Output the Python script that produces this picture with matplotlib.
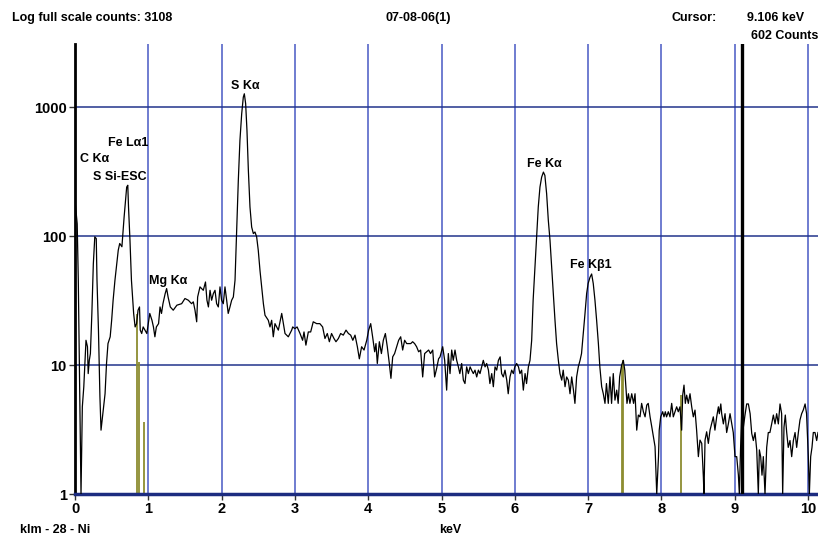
import matplotlib; matplotlib.use('Agg')

import matplotlib.pyplot as plt
import numpy as np

# spectrum (keV, counts)
energy = [0.00, 0.03, 0.045, 0.068, 0.082, 0.10, 0.12, 0.15, 0.17, 0.18, 0.195, 0.21, 0.23, 0.25, 0.27, 0.29, 0.30, 0.32, 0.34, 0.355,
          0.37, 0.39, 0.41, 0.43, 0.45, 0.48, 0.50, 0.52, 0.545, 0.57, 0.59, 0.61, 0.64, 0.65, 0.67, 0.69, 0.705, 0.72, 0.73, 0.75,
          0.77, 0.80, 0.82, 0.84, 0.86, 0.88, 0.89, 0.91, 0.93, 0.955, 0.98, 1.00, 1.02, 1.05, 1.07, 1.09, 1.11, 1.14, 1.16, 1.18,
          1.20, 1.23, 1.25, 1.27, 1.30, 1.32, 1.34, 1.39, 1.455, 1.50, 1.546, 1.59, 1.614, 1.637, 1.66, 1.673, 1.705, 1.75, 1.78, 1.80,
          1.82, 1.842, 1.864, 1.887, 1.91, 1.932, 1.955, 1.978, 2.00, 2.023, 2.046, 2.069, 2.09, 2.114, 2.137, 2.16, 2.183, 2.205, 2.228, 2.25,
          2.274, 2.296, 2.31, 2.328, 2.346, 2.365, 2.387, 2.41, 2.433, 2.455, 2.478, 2.50, 2.524, 2.546, 2.57, 2.592, 2.637, 2.66, 2.683, 2.705,
          2.728, 2.774, 2.82, 2.865, 2.91, 2.956, 2.97, 3.0, 3.03, 3.07, 3.105, 3.124, 3.15, 3.183, 3.215, 3.25, 3.297, 3.34, 3.378, 3.41,
          3.442, 3.47, 3.50, 3.533, 3.56, 3.593, 3.624, 3.66, 3.697, 3.73, 3.761, 3.79, 3.82, 3.852, 3.879, 3.91, 3.943, 3.98, 4.006, 4.034,
          4.06, 4.088, 4.106, 4.124, 4.152, 4.18, 4.206, 4.234, 4.26, 4.288, 4.31, 4.334, 4.36, 4.388, 4.415, 4.443, 4.47, 4.497, 4.525, 4.552,
          4.58, 4.606, 4.633, 4.66, 4.688, 4.715, 4.743, 4.77, 4.797, 4.824, 4.85, 4.88, 4.906, 4.933, 4.96, 4.98, 5.016, 5.043, 5.07, 5.093,
          5.116, 5.139, 5.16, 5.184, 5.207, 5.23, 5.25, 5.275, 5.298, 5.32, 5.343, 5.366, 5.39, 5.41, 5.434, 5.457, 5.48, 5.503, 5.525, 5.548,
          5.57, 5.594, 5.616, 5.64, 5.66, 5.685, 5.707, 5.73, 5.753, 5.776, 5.80, 5.82, 5.843, 5.866, 5.89, 5.91, 5.934, 5.957, 5.98, 6.0,
          6.025, 6.05, 6.07, 6.093, 6.116, 6.14, 6.16, 6.185, 6.207, 6.23, 6.25, 6.275, 6.3, 6.32, 6.343, 6.366, 6.39, 6.41, 6.434, 6.457,
          6.48, 6.503, 6.525, 6.548, 6.57, 6.594, 6.616, 6.64, 6.66, 6.685, 6.707, 6.73, 6.753, 6.776, 6.80, 6.82, 6.843, 6.866, 6.89, 6.91,
          6.934, 6.957, 6.98, 7.0, 7.025, 7.048, 7.07, 7.093, 7.116, 7.14, 7.16, 7.185, 7.207, 7.23, 7.25, 7.275, 7.298, 7.32, 7.343, 7.366,
          7.39, 7.41, 7.43, 7.457, 7.48, 7.50, 7.53, 7.55, 7.57, 7.595, 7.62, 7.64, 7.663, 7.685, 7.708, 7.73, 7.754, 7.777, 7.80, 7.82,
          7.845, 7.868, 7.89, 7.913, 7.927, 7.936, 7.96, 7.97, 7.99, 8.017, 8.035, 8.053, 8.07, 8.094, 8.117, 8.14, 8.162, 8.185, 8.208, 8.23,
          8.253, 8.276, 8.29, 8.308, 8.326, 8.344, 8.367, 8.39, 8.413, 8.435, 8.458, 8.48, 8.504, 8.526, 8.55, 8.572, 8.58, 8.595, 8.617, 8.64,
          8.663, 8.686, 8.708, 8.73, 8.754, 8.777, 8.79, 8.81, 8.822, 8.845, 8.868, 8.89, 8.913, 8.936, 8.96, 8.98, 9.004, 9.027, 9.05, 9.063,
          9.08, 9.095, 9.118, 9.14, 9.163, 9.186, 9.21, 9.232, 9.254, 9.277, 9.3, 9.322, 9.336, 9.354, 9.372, 9.39, 9.413, 9.436, 9.458, 9.48,
          9.504, 9.527, 9.55, 9.572, 9.595, 9.618, 9.64, 9.654, 9.672, 9.69, 9.709, 9.73, 9.754, 9.777, 9.8, 9.823, 9.845, 9.868, 9.89, 9.913,
          9.936, 9.96, 9.98, 10.004, 10.018, 10.036, 10.054, 10.072, 10.095, 10.118, 10.136]
counts = [190, 125, 45.6, 4.2, 1.0, 4.75, 6.8, 15.6, 13.9, 8.6, 10.9, 12.3, 25.2, 61, 99, 96, 45.6, 18.7, 5.7, 3.13,
          3.75, 4.75, 6.0, 10.3, 14.7, 16.6, 22.3, 31.9, 45.6, 61, 78, 88, 83, 99, 141, 190, 241, 249, 169, 93,
          45.6, 25.2, 19.8, 21, 26.7, 28.3, 18.7, 17.6, 19.8, 18.7, 17.6, 21, 25.2, 22.3, 19.8, 16.6, 19.8, 21, 28.3, 25.2,
          30, 35.9, 39.3, 33.8, 28.3, 27.5, 26.7, 29.2, 30, 32.9, 31.9, 30, 31, 26.7, 21.7, 33.8, 40.5, 38.1, 44.2, 31.9,
          28.3, 38.1, 31.9, 35.9, 38.1, 30, 28.3, 40.5, 31.9, 30, 40.5, 31.9, 25.2, 28.3, 31.9, 33.8, 45.6, 111, 272, 555,
          893, 1202, 1277, 1069, 663, 325, 169, 118, 105, 108, 99, 78, 54, 40.5, 30, 24.4, 22.3, 19.8, 22.3, 16.6,
          21, 18.7, 25.2, 17.6, 16.6, 18.7, 19.8, 19.2, 19.8, 17.6, 15.6, 18.1, 14.3, 18.1, 18.1, 21.7, 21.0, 21.0, 19.8, 16.1,
          17.6, 15.2, 17.6, 16.1, 15.2, 16.1, 17.6, 17.1, 18.7, 17.6, 17.1, 15.6, 17.1, 13.9, 11.2, 13.9, 13.1, 15.6, 18.7, 21.0,
          16.6, 12.7, 14.7, 10.3, 15.2, 12.3, 15.6, 17.6, 13.9, 10.3, 7.9, 11.6, 12.3, 13.9, 15.6, 16.6, 13.1, 15.6, 14.7, 14.7,
          14.7, 15.2, 14.7, 13.9, 12.7, 13.1, 8.1, 12.3, 12.7, 13.1, 12.3, 13.1, 8.1, 9.4, 11.2, 11.6, 13.9, 10.9, 6.4, 12.3,
          8.6, 13.1, 10.9, 13.1, 10.9, 9.7, 8.6, 10.3, 7.65, 7.2, 9.7, 8.6, 9.7, 9.15, 8.6, 9.15, 8.1, 9.15, 8.6, 9.7,
          10.9, 9.7, 10.3, 9.15, 7.2, 8.6, 6.8, 9.7, 9.15, 10.9, 11.6, 8.6, 8.1, 9.15, 7.65, 6.0, 8.1, 9.15, 8.6, 9.7,
          10.3, 9.7, 8.6, 9.15, 6.4, 8.6, 7.2, 9.7, 10.9, 15.6, 32, 58, 105, 169, 241, 288, 315, 297, 214, 133,
          93, 58, 36, 22.3, 14.7, 10.9, 8.6, 7.65, 9.15, 6.8, 8.1, 7.65, 6.0, 8.1, 6.4, 5.05, 8.1, 9.7, 10.9, 12.3,
          17.6, 25, 36, 43, 48, 51, 43, 32, 22.3, 14.7, 9.7, 6.8, 6.0, 5.05, 7.2, 5.05, 8.1, 5.05, 8.6, 5.35,
          6.4, 5.05, 8.1, 10, 10.9, 9.15, 5.05, 6.0, 5.05, 6.0, 5.05, 6.0, 3.13, 4.1, 3.97, 5.05, 4.35, 3.97, 4.9, 5.05,
          3.97, 3.33, 2.78, 2.33, 1.36, 1.0, 1.95, 3.13, 3.97, 4.35, 3.97, 4.35, 3.97, 4.35, 3.97, 5.05, 3.97, 4.35, 4.75, 4.35,
          4.75, 3.13, 5.85, 7.0, 5.05, 5.85, 5.05, 6.0, 4.75, 3.97, 4.48, 3.13, 1.95, 2.62, 2.47, 1.36, 1.0, 2.62, 3.04, 2.47,
          3.13, 3.53, 3.97, 3.13, 3.97, 4.75, 4.2, 5.0, 4.2, 3.5, 4.2, 3.0, 3.5, 4.2, 3.5, 3.0, 1.95, 1.95, 1.4, 1.0,
          2.3, 4.2, 3.3, 4.1, 5.0, 5.0, 4.2, 2.95, 2.6, 3.0, 2.2, 1.0, 2.2, 1.95, 1.4, 1.95, 1.0, 2.3, 3.0, 3.0,
          3.5, 4.1, 3.5, 4.2, 3.5, 5.0, 4.2, 1.0, 3.3, 4.1, 3.0, 2.3, 2.6, 1.95, 2.6, 3.0, 2.3, 3.0, 3.75, 4.2,
          4.5, 5.0, 4.2, 1.95, 1.0, 1.95, 2.3, 3.0, 3.0, 2.6, 3.0]

# peak labels
peak_names = ["S K\u03b1", "Fe L\u03b11", "C K\u03b1", "S Si-ESC", "Mg K\u03b1", "Fe K\u03b1", "Fe K\u03b21"]
peak_x = [2.32, 0.72, 0.27, 0.61, 1.27, 6.40, 7.03]
peak_y = [1480, 526, 395, 287, 45, 361, 60]

# Ni KLM marker lines
marker_x = [0.851, 0.868, 0.94, 7.461, 7.478, 8.265]
marker_h = [25, 10.6, 3.6, 10, 11, 5.85]

cursor_kev = 9.106
full_scale = 3108
xticks = list(range(0, 11))
yticks = [1, 10, 100, 1000]

font = ['Liberation Sans Narrow', 'Liberation Sans', 'DejaVu Sans']

fig = plt.figure(figsize=(8.18, 5.39), dpi=100)
ax = fig.add_axes([75/818, 45/539, 743/818, 450/539])

for k in xticks[1:]:
    ax.axvline(k, color='#4858c4', lw=1.1, zorder=1)
for v in yticks[1:]:
    ax.axhline(v, color='#22348c', lw=1.1, zorder=1)

ax.vlines(marker_x, 1, marker_h, color='#8c8c30', lw=1.3, zorder=2)
ax.plot(energy, counts, color='black', lw=0.9, zorder=3)
ax.axvline(cursor_kev, color='black', lw=2.4, zorder=4)

for name, x, y in zip(peak_names, peak_x, peak_y):
    ax.text(x, y, name, ha='center', va='center', fontsize=9, fontweight='bold',
            family=['Liberation Sans', 'DejaVu Sans'], zorder=5)

ax.set_yscale('log')
ax.set_xlim(0, 10.136)
ax.set_ylim(1, full_scale)
ax.set_xticks(xticks)
ax.set_xticklabels([str(t) for t in xticks])
ax.set_yticks(yticks)
ax.set_yticklabels([str(t) for t in yticks])
ax.minorticks_off()
for s in ['top', 'right']:
    ax.spines[s].set_visible(False)
ax.spines['left'].set_color('black')
ax.spines['left'].set_linewidth(2)
ax.spines['bottom'].set_color('#1c2c80')
ax.spines['bottom'].set_linewidth(2.5)
ax.tick_params(axis='x', length=4, width=1, color='#333333', pad=2)
ax.tick_params(axis='y', length=4, width=1, color='#333333', pad=2)
for lab in ax.get_xticklabels() + ax.get_yticklabels():
    lab.set_family(font)
    lab.set_fontweight('bold')
    lab.set_fontsize(10.5)

fig.text(12/818, 1 - 18/539, "Log full scale counts: %d" % full_scale, fontsize=9,
         fontweight='bold', family=font, va='center', ha='left')
fig.text(418/818, 1 - 18/539, "07-08-06(1)", fontsize=9, fontweight='bold',
         family=font, va='center', ha='center')
fig.text(672/818, 1 - 18/539, "Cursor:", fontsize=9, fontweight='bold',
         family=font, va='center', ha='left')
fig.text(804/818, 1 - 18/539, "%.3f keV" % cursor_kev, fontsize=9, fontweight='bold',
         family=font, va='center', ha='right')
fig.text(818/818, 1 - 36/539, "602 Counts", fontsize=9, fontweight='bold',
         family=font, va='center', ha='right')
fig.text(450/818, 1 - 530/539, "keV", fontsize=9, fontweight='bold',
         family=font, va='center', ha='center')
fig.text(20/818, 1 - 530/539, "klm - 28 - Ni", fontsize=9, fontweight='bold',
         family=font, va='center', ha='left')

fig.savefig("out.png", dpi=100)
